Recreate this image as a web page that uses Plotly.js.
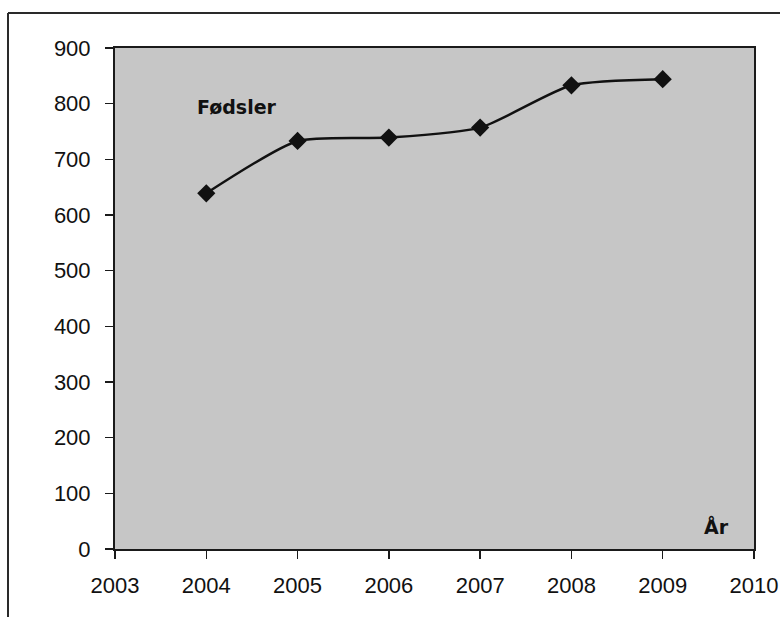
<!DOCTYPE html>
<html>
<head>
<meta charset="utf-8">
<script src="https://cdn.plot.ly/plotly-3.0.1.min.js"></script>
<style>html,body{margin:0;padding:0;background:#fff;}#chart{width:780px;height:617px;}</style>
</head>
<body>
<div id="chart"></div>
<script>
const years = [2004, 2005, 2006, 2007, 2008, 2009];
const births = [639, 733, 739, 757, 833, 844];
const xTicks = [2003, 2004, 2005, 2006, 2007, 2008, 2009, 2010];
const yTicks = [0, 100, 200, 300, 400, 500, 600, 700, 800, 900];
const seriesLabel = "Fødsler";
const xLabel = "År";

const W = 780, H = 617;
const L = 115, R = 26, T = 48, B = 68;
function px(x){ return (x - L) / (W - L - R); }
function py(y){ return 1 - (y - T) / (H - T - B); }

const trace = {
  x: years, y: births, type: 'scatter', mode: 'lines+markers',
  line: {color: '#111', width: 2.5, shape: 'spline', smoothing: 0.6},
  marker: {symbol: 'diamond', size: 14, color: '#111'},
  hoverinfo: 'skip'
};

const tickFont = {family: 'Liberation Sans, Arial, sans-serif', size: 22, color: '#111'};
const annFont = {family: 'DejaVu Sans, Verdana, sans-serif', size: 19, color: '#111'};
const layout = {
  width: W, height: H,
  margin: {l: L, r: R, t: T, b: B, pad: 0},
  paper_bgcolor: '#ffffff',
  plot_bgcolor: '#c6c6c6',
  showlegend: false,
  xaxis: {
    range: [2003, 2010], tickvals: xTicks, ticktext: xTicks.map(String),
    showgrid: false, zeroline: false,
    showline: true, linecolor: '#1a1a1a', linewidth: 2, mirror: true,
    ticks: 'outside', ticklen: 8, tickwidth: 1.5, tickcolor: '#1a1a1a',
    ticklabelstandoff: 8,
    tickfont: tickFont, fixedrange: true
  },
  yaxis: {
    range: [0, 900], tickvals: yTicks, ticktext: yTicks.map(String),
    showgrid: false, zeroline: false,
    showline: true, linecolor: '#1a1a1a', linewidth: 2, mirror: true,
    ticks: 'outside', ticklen: 8, tickwidth: 1.5, tickcolor: '#1a1a1a',
    ticklabelstandoff: 10,
    tickfont: tickFont, fixedrange: true
  },
  annotations: [
    {text: '<b>' + seriesLabel + '</b>', xref: 'x', yref: 'y', x: 2004.34, y: 794,
     showarrow: false, xanchor: 'center', yanchor: 'middle', font: annFont},
    {text: '<b>' + xLabel + '</b>', xref: 'x', yref: 'y', x: 2009.59, y: 40,
     showarrow: false, xanchor: 'center', yanchor: 'middle', font: annFont}
  ],
  shapes: [
    {type: 'line', xref: 'paper', yref: 'paper', x0: px(8), x1: px(780), y0: py(13), y1: py(13),
     line: {color: '#2a2a2a', width: 2}},
    {type: 'line', xref: 'paper', yref: 'paper', x0: px(8), x1: px(8), y0: py(13), y1: py(617),
     line: {color: '#2a2a2a', width: 2}}
  ]
};

Plotly.newPlot('chart', [trace], layout, {staticPlot: true, displayModeBar: false});
</script>
</body>
</html>
